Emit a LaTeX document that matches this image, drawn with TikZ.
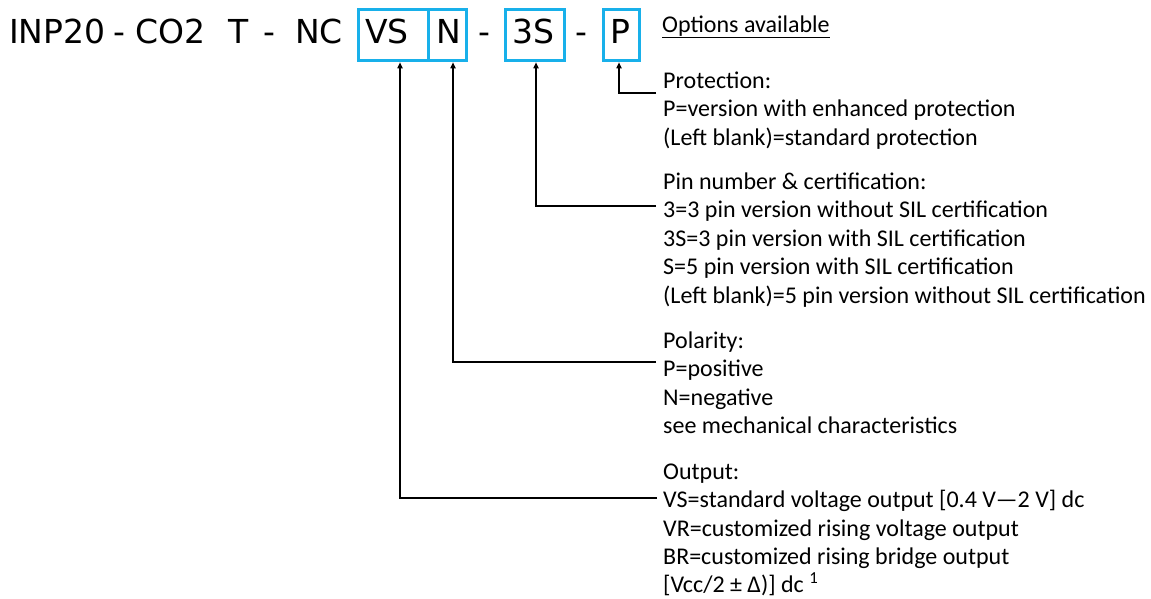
\documentclass[tikz,border=0pt]{standalone}
\usepackage{fontspec}
\setmainfont{Carlito}
\newfontfamily\hdrfont{DejaVu Sans}
\usetikzlibrary{arrows.meta}
\definecolor{boxcyan}{RGB}{24,176,234}
\begin{document}
\begin{tikzpicture}[x=1pt,y=-1pt,
  lbl/.style={anchor=base west, inner sep=0pt, font=\fontsize{24}{28}\selectfont},
  hd/.style={anchor=base west, inner sep=0pt, font=\hdrfont\fontsize{33}{40}\selectfont},
  codebox/.style={draw=boxcyan, line width=2.5pt, inner sep=0pt, minimum height=51pt},
  conn/.style={line width=1.5pt, -{Triangle[length=6pt,width=5pt]}, shorten >=0.5pt}]
\useasboundingbox (0,0) rectangle (1151,598);
% header code
\node[hd] (h1) at (9,43) {INP20};
\node[hd] (h2) at (113,43) {-};
\node[hd] (h3) at (135,43) {CO2};
\node[hd] (h4) at (228,43) {T};
\node[hd] (h5) at (263,43) {-};
\node[hd] (h6) at (295,43) {NC};
% boxes
\node[codebox, minimum width=70pt] (vsbox) at (393.5,35) {};
\node[codebox, minimum width=38pt] (nbox) at (447.5,35) {};
\node[codebox, minimum width=59pt] (tsbox) at (535,35) {};
\node[codebox, minimum width=36pt] (pbox) at (621.5,35) {};
\node[hd] (tvs) at (365,43) {VS};
\node[hd] (tn) at (436,43) {N};
\node[hd] (h7) at (478,43) {-};
\node[hd] (tts) at (512,43) {3S};
\node[hd] (h8) at (575,43) {-};
\node[hd] (tp) at (610,43) {P};
\node[lbl] (opt) at (662,32) {\underline{Options available}};
% protection
\node[lbl] (p1) at (663,88) {Protection:};
\node[lbl] (p2) at (663,116.6) {P=version with enhanced protection};
\node[lbl] (p3) at (663,145.2) {(Left blank)=standard protection};
% pin
\node[lbl] (s1) at (663,189) {Pin number \& certification:};
\node[lbl] (s2) at (663,217.6) {3=3 pin version without SIL certification};
\node[lbl] (s3) at (663,246.2) {3S=3 pin version with SIL certification};
\node[lbl] (s4) at (663,274.8) {S=5 pin version with SIL certification};
\node[lbl] (s5) at (663,303.4) {(Left blank)=5 pin version without SIL certification};
% polarity
\node[lbl] (n1) at (663,348) {Polarity:};
\node[lbl] (n2) at (663,376.6) {P=positive};
\node[lbl] (n3) at (663,405.2) {N=negative};
\node[lbl] (n4) at (663,433.8) {see mechanical characteristics};
% output
\node[lbl] (o1) at (663,479) {Output:};
\node[lbl] (o2) at (663,507.6) {VS=standard voltage output [0.4 V—2 V] dc};
\node[lbl] (o3) at (663,536.2) {VR=customized rising voltage output};
\node[lbl] (o4) at (663,564.8) {BR=customized rising bridge output};
\node[lbl] (o5) at (663,592.5) {[Vcc/2 ± Δ)] dc \textsuperscript{1}};
% connector ends
\coordinate (cP) at (656,93);
\coordinate (cS) at (656,206);
\coordinate (cN) at (656,362);
\coordinate (cV) at (657,498);
\draw[conn] (cP) -| ([xshift=-2.5pt]pbox.south);
\draw[conn] (cS) -| ([xshift=1pt]tsbox.south);
\draw[conn] (cN) -| ([xshift=5.5pt]nbox.south);
\draw[conn] (cV) -| ([xshift=6.5pt]vsbox.south);
\end{tikzpicture}
\end{document}
